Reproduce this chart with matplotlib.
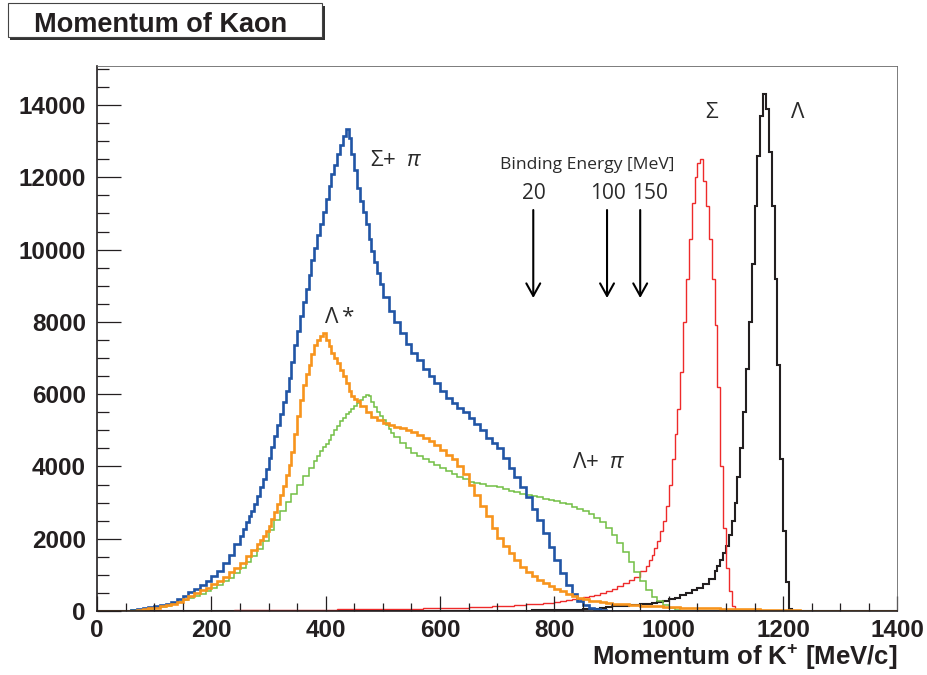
import numpy as np
import matplotlib
matplotlib.use("Agg")
import matplotlib.pyplot as plt
from matplotlib.patches import Rectangle

# ---------------- data ----------------
# 10 MeV/c bins in the smooth parts, 5 MeV/c bins across the steep parts

# Sigma + pi  (blue)
sigma_pi_edges = np.concatenate([np.arange(0, 250, 10), np.arange(250, 500, 5),
                                 np.arange(500, 1401, 10)])
sigma_pi = ([0, 0, 0, 0, 0, 5, 20, 45, 70, 105,
             135, 165, 200, 260, 340, 420, 520, 620, 720, 830,
             960, 1120, 1320, 1550, 1860]
            + [2080, 2280, 2470, 2620, 2760, 2950, 3180, 3420, 3660, 3920,
               4220, 4550, 4850, 5150, 5450, 5780, 6100, 6450, 6900, 7350,
               7750, 8150, 8550, 8900, 9300, 9700, 10050, 10400, 10700, 11050,
               11400, 11750, 12100, 12350, 12650, 12900, 13150, 13350, 13100, 12650,
               12200, 11700, 11350, 11050, 10700, 10300, 9950, 9650, 9350, 9050]
            + [8700, 8300, 8000, 7700, 7400, 7150, 6950, 6700, 6500, 6300,
               6080, 5900, 5760, 5630, 5500, 5330, 5180, 5000, 4800, 4650,
               4500, 4230, 3970, 3700, 3430, 3150, 2830, 2520, 2150, 1780,
               1400, 1040, 720, 460, 290, 170, 90, 45, 15, 5]
            + [0] * 50)

# Lambda* (orange)
lambda_star_edges = np.concatenate([np.arange(0, 280, 10), np.arange(280, 460, 5),
                                    np.arange(460, 1401, 10)])
lambda_star = ([0, 0, 0, 0, 0, 0, 10, 30, 50, 70,
                95, 125, 160, 200, 260, 330, 410, 490, 570, 650,
                740, 830, 940, 1080, 1200, 1340, 1520, 1700]
               + [1850, 1960, 2070, 2200, 2350, 2550, 2750, 2950, 3200, 3450,
                  3750, 4050, 4400, 4900, 5400, 5850, 6250, 6550, 6800, 7100,
                  7350, 7500, 7600, 7680, 7500, 7330, 7150, 7000, 6850, 6680,
                  6500, 6300, 6100, 5950, 5870, 5800]
               + [5660, 5500, 5380, 5280,
                  5200, 5150, 5100, 5050, 5000, 4940, 4880, 4800, 4700, 4580,
                  4450, 4320, 4200, 4000, 3780, 3480, 3200, 2900, 2620, 2300,
                  2020, 1800, 1600, 1400, 1230, 1080, 960, 860, 780, 700,
                  620, 540, 470, 410, 360, 320, 290, 270, 245, 225,
                  205, 190, 180, 170, 160, 150, 145, 135, 125, 120,
                  110, 100, 95, 90, 85, 80, 80, 75, 70, 65,
                  60, 60, 55, 50, 50, 45, 40, 40, 35, 30,
                  25, 20, 15, 10, 5]
               + [0] * 15)

# Lambda + pi (green)
lambda_pi_edges = np.concatenate([np.arange(0, 380, 10), np.arange(380, 520, 5),
                                  np.arange(520, 1401, 10)])
lambda_pi = ([0, 0, 0, 0, 0, 0, 20, 35, 50, 65,
              85, 110, 145, 190, 240, 300, 360, 420, 480, 560,
              630, 720, 820, 920, 1050, 1200, 1360, 1530, 1720, 1950,
              2250, 2530, 2780, 3020, 3250, 3500, 3730, 3950]
             + [4150, 4300, 4430, 4530, 4630, 4740, 4870, 5000, 5130, 5250,
                5350, 5440, 5500, 5600, 5680, 5760, 5850, 5920, 5980, 5950,
                5780, 5640, 5520, 5400, 5280, 5150, 5030, 4920]
             + [4820, 4660, 4500, 4380, 4280, 4200, 4120, 4040,
                3960, 3880, 3800, 3720, 3640, 3580, 3550, 3520, 3470, 3450,
                3430, 3380, 3330, 3280, 3240, 3210, 3190, 3160, 3110, 3070,
                3040, 3000, 2950, 2890, 2830, 2760, 2680, 2580, 2450, 2290,
                2100, 1880, 1620, 1350, 1080, 820, 590, 400, 270, 160,
                80, 20]
             + [0] * 38)

# Sigma (red)
sigma_edges = np.concatenate([np.arange(0, 960, 10), np.arange(960, 1401, 5)])
sigma = ([0] * 15
         + [5, 5, 8, 8, 10,
            10, 10, 12, 12, 15, 15, 18, 20, 20, 22,
            25, 25, 28, 30, 30, 32, 32, 35, 35, 38,
            40, 40, 42, 42, 45, 45, 48, 50, 50, 52,
            55, 55, 58, 60, 62, 65, 68, 70, 72, 75,
            78, 82, 86, 90, 95, 100, 105, 110, 118, 125,
            132, 140, 150, 160, 170, 180, 192, 205, 220, 235,
            255, 275, 295, 320, 345, 375, 410, 450, 500, 555,
            615, 690, 770, 860, 950, 1100]
         + [1250, 1400, 1550, 1750, 1950, 2200, 2500, 2900, 3500, 4200,
            4900, 5600, 6600, 8000, 9200, 10300, 11300, 12000, 12400, 12500,
            11900, 11200, 10300, 9200, 7900, 6200, 4000, 2300, 1200, 550,
            150]
         + [0] * 57)

# Lambda (black)
lambda_edges = np.concatenate([np.arange(0, 1080, 10), np.arange(1080, 1401, 5)])
lambda_ = ([0] * 70
           + [5, 5, 8, 8, 10, 12, 14, 16, 18, 20,
              22, 25, 30, 35, 40, 45, 50, 60, 75, 100,
              125, 140, 150, 160, 170, 180, 195, 215, 245, 285,
              330, 370, 430, 500, 570, 650, 750, 880]
           + [1100, 1250, 1400, 1600, 1800, 2100, 2500, 3000, 3700, 4500,
              5500, 6700, 8000, 9600, 11200, 12600, 13700, 14300, 13900, 12700,
              11200, 9200, 6800, 4200, 2200, 800, 50]
           + [0] * 37)

series = [
    (lambda_, lambda_edges, "#231f20", 1.5),
    (sigma, sigma_edges, "#ee2a2a", 1.0),
    (lambda_pi, lambda_pi_edges, "#72bf44", 1.1),
    (sigma_pi, sigma_pi_edges, "#2155a5", 1.9),
    (lambda_star, lambda_star_edges, "#f7941d", 1.9),
]

# binding-energy arrows
binding_energy = ["20", "100", "150"]
arrow_momentum = [763, 892, 950]
label_momentum = [764, 893, 968]

x_ticks = [0, 200, 400, 600, 800, 1000, 1200, 1400]
y_ticks = [0, 2000, 4000, 6000, 8000, 10000, 12000, 14000]

# ---------------- figure ----------------
plt.rcParams["font.family"] = ["Liberation Sans", "DejaVu Sans"]
plt.rcParams["mathtext.fontset"] = "custom"
plt.rcParams["mathtext.rm"] = "Open Sans"
plt.rcParams["mathtext.it"] = "Open Sans:italic"
plt.rcParams["mathtext.bf"] = "Liberation Sans:bold"

W, H = 928, 675
fig = plt.figure(figsize=(W / 100, H / 100), dpi=100)
ax = fig.add_axes([97 / W, 1 - 611 / H, 800.5 / W, 545 / H])

for vals, edges, col, lw in series:
    assert len(vals) == len(edges) - 1
    ax.stairs(vals, edges, color=col, lw=lw, baseline=0)

ax.set_xlim(0, 1400)
ax.set_ylim(0, 15080)
ax.set_xticks(x_ticks)
ax.set_yticks(y_ticks)
ax.set_xticks(np.arange(0, 1401, 50), minor=True)
ax.set_yticks(np.arange(0, 15001, 500), minor=True)
ax.set_xticklabels([str(v) for v in x_ticks], fontweight="bold")
ax.set_yticklabels([str(v) for v in y_ticks], fontweight="bold")

axc = "#231f20"
ax.tick_params(axis="x", which="major", direction="in", length=11, width=0.9,
               color=axc, labelsize=17.5, pad=6, labelcolor=axc)
ax.tick_params(axis="x", which="minor", direction="in", length=5.5, width=0.9, color=axc)
ax.tick_params(axis="y", which="major", direction="in", length=17, width=0.9,
               color=axc, labelsize=17.5, pad=8, labelcolor=axc)
ax.tick_params(axis="y", which="minor", direction="in", length=8.5, width=0.9, color=axc)
for s in ["left", "bottom"]:
    ax.spines[s].set_linewidth(1.2)
    ax.spines[s].set_color(axc)
for s in ["top", "right"]:
    ax.spines[s].set_linewidth(0.6)
    ax.spines[s].set_color("#666666")

# axis title
fig.text(897 / W, 1 - 665 / H, r"Momentum of K$^{\mathbf{+}}$ [MeV/c]",
         ha="right", va="baseline", fontsize=18.5, fontweight="bold", color=axc)

# histogram title box with shadow
fig.patches.append(Rectangle((10.5 / W, 1 - 39.7 / H), 314.2 / W, 33.4 / H,
                             transform=fig.transFigure, facecolor="#333333",
                             edgecolor="none", zorder=1))
fig.patches.append(Rectangle((7.5 / W, 1 - 36.7 / H), 314.2 / W, 33.4 / H,
                             transform=fig.transFigure, facecolor="white",
                             edgecolor="#444444", lw=0.8, zorder=2))
fig.text(160.8 / W, 1 - 31.7 / H, "Momentum of Kaon", ha="center", va="baseline",
         fontsize=19.5, fontweight="bold", color=axc, zorder=3)

# annotations
tc = "#2a2a2a"
afont = dict(family=["Open Sans", "DejaVu Sans"], fontweight="normal", color=tc)
ax.text(477, 12320, r"$\Sigma$+  $\pi$", ha="left", va="baseline", fontsize=16, **afont)
ax.text(398, 7960, "Λ\u2009*", ha="left", va="baseline", fontsize=16, **afont)
ax.text(830, 3950, r"$\Lambda$+  $\pi$", ha="left", va="baseline", fontsize=16, **afont)
ax.text(1063, 13650, "Σ", ha="left", va="baseline", fontsize=16, **afont)
ax.text(1214, 13650, "Λ", ha="left", va="baseline", fontsize=16, **afont)
ax.text(857, 12220, "Binding Energy [MeV]", ha="center", va="baseline",
        fontsize=12.6, **afont)
for lab, xm, xa in zip(binding_energy, label_momentum, arrow_momentum):
    ax.text(xm, 11400, lab, ha="center", va="baseline", fontsize=15, **afont)
    ax.annotate("", xy=(xa, 8660), xytext=(xa, 11095),
                arrowprops=dict(arrowstyle="->,head_length=0.9,head_width=0.5",
                                lw=1.5, color="black", shrinkA=0, shrinkB=0))

fig.savefig("out.png", dpi=100)
